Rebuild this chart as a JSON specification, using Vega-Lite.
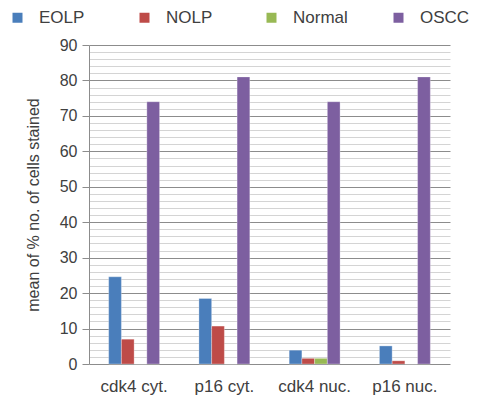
{
  "$schema": "https://vega.github.io/schema/vega-lite/v6.json",
  "autosize": "none",
  "padding": {"left": 89, "top": 45, "right": 35, "bottom": 38},
  "width": 361,
  "height": 319,
  "background": "white",
  "config": {
    "font": "Liberation Sans",
    "view": {"stroke": null}
  },
  "data": {
    "values": [
      {"stain": "cdk4 cyt.", "group": "EOLP", "mean": 24.6},
      {"stain": "cdk4 cyt.", "group": "NOLP", "mean": 7.0},
      {"stain": "cdk4 cyt.", "group": "Normal", "mean": 0},
      {"stain": "cdk4 cyt.", "group": "OSCC", "mean": 74},
      {"stain": "p16 cyt.", "group": "EOLP", "mean": 18.5},
      {"stain": "p16 cyt.", "group": "NOLP", "mean": 10.7},
      {"stain": "p16 cyt.", "group": "Normal", "mean": 0},
      {"stain": "p16 cyt.", "group": "OSCC", "mean": 81},
      {"stain": "cdk4 nuc.", "group": "EOLP", "mean": 3.9},
      {"stain": "cdk4 nuc.", "group": "NOLP", "mean": 1.6},
      {"stain": "cdk4 nuc.", "group": "Normal", "mean": 1.6},
      {"stain": "cdk4 nuc.", "group": "OSCC", "mean": 74},
      {"stain": "p16 nuc.", "group": "EOLP", "mean": 5.1},
      {"stain": "p16 nuc.", "group": "NOLP", "mean": 0.9},
      {"stain": "p16 nuc.", "group": "Normal", "mean": 0},
      {"stain": "p16 nuc.", "group": "OSCC", "mean": 81}
    ]
  },
  "mark": {"type": "bar", "strokeWidth": 0.6, "strokeOpacity": 0.5, "stroke": "white"},
  "encoding": {
    "x": {
      "field": "stain",
      "type": "nominal",
      "sort": ["cdk4 cyt.", "p16 cyt.", "cdk4 nuc.", "p16 nuc."],
      "scale": {"paddingInner": 0.436, "paddingOuter": 0.218},
      "axis": {
        "title": null,
        "labelAngle": 0,
        "labelFontSize": 17,
        "labelColor": "#404040",
        "labelPadding": 14,
        "ticks": false,
        "domain": false,
        "grid": false
      }
    },
    "xOffset": {
      "field": "group",
      "type": "nominal",
      "sort": ["EOLP", "NOLP", "Normal", "OSCC"],
      "scale": {"paddingInner": 0, "paddingOuter": 0}
    },
    "y": {
      "field": "mean",
      "type": "quantitative",
      "scale": {"domain": [0, 90], "nice": false},
      "axis": {
        "title": "mean of % no. of cells stained",
        "titleFontSize": 16,
        "titleFontWeight": "normal",
        "titleColor": "#404040",
        "titlePadding": 18,
        "values": [0, 2, 4, 6, 8, 10, 12, 14, 16, 18, 20, 22, 24, 26, 28, 30, 32, 34, 36, 38, 40, 42, 44, 46, 48, 50, 52, 54, 56, 58, 60, 62, 64, 66, 68, 70, 72, 74, 76, 78, 80, 82, 84, 86, 88, 90],
        "labelExpr": "datum.value % 10 === 0 ? datum.label : ''",
        "labelFontSize": 16,
        "labelColor": "#404040",
        "labelPadding": 5,
        "tickSize": 7,
        "tickColor": "#8c8c8c",
        "tickOpacity": {"condition": {"test": "datum.value % 10 === 0", "value": 1}, "value": 0},
        "domainColor": "#8c8c8c",
        "grid": true,
        "gridColor": {"condition": {"test": "datum.value % 10 === 0", "value": "#8c8c8c"}, "value": "#d4d4d4"},
        "gridWidth": 1
      }
    },
    "color": {
      "field": "group",
      "type": "nominal",
      "sort": ["EOLP", "NOLP", "Normal", "OSCC"],
      "scale": {
        "domain": ["EOLP", "NOLP", "Normal", "OSCC"],
        "range": ["#4a7ebb", "#be4b48", "#98b954", "#7d5fa0"]
      },
      "legend": {
        "title": null,
        "orient": "none",
        "legendX": -80,
        "legendY": -36,
        "direction": "horizontal",
        "columns": 4,
        "gridAlign": "all",
        "columnPadding": 42,
        "symbolType": "square",
        "symbolSize": 100,
        "symbolStrokeWidth": 0,
        "labelFontSize": 17,
        "labelColor": "#404040",
        "labelOffset": 13
      }
    }
  }
}
